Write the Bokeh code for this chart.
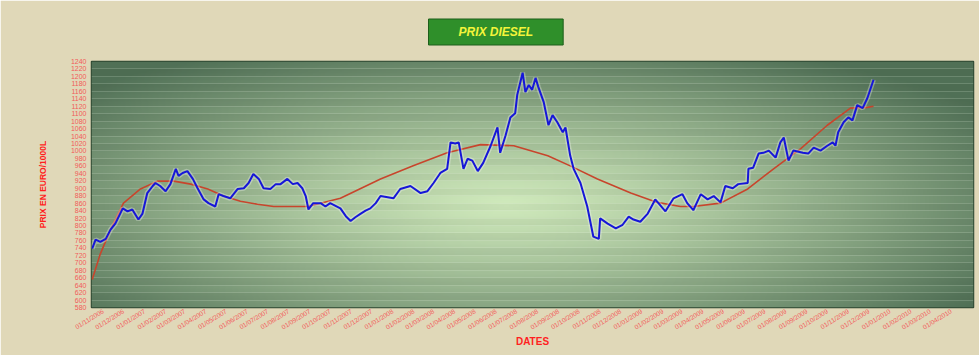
import numpy as np
import pandas as pd
from bokeh.plotting import figure
from bokeh.models import Range1d, FixedTicker, DatetimeTickFormatter
from bokeh.embed import file_html
from bokeh.resources import INLINE

# ---------------- data ----------------
start_date = "2006-10-15"
end_date = "2010-05-04"

# blue series: days since start_date, price in EUR / 1000 L
price_days = [1, 6, 13, 21, 28, 35, 46, 53, 60, 69, 75, 82, 90, 94, 101, 109, 116, 124, 128, 134,
              141, 149, 156, 165, 172, 182, 187, 194, 204, 215, 224, 231, 238, 246, 253, 263, 271, 278, 288, 296,
              303, 310, 315, 319, 326, 337, 344, 351, 366, 374, 381, 388, 396, 403, 410, 418, 425, 444, 454, 469,
              484, 494, 503, 513, 523, 528, 535, 540, 547, 553, 560, 568, 576, 587, 597, 601, 609, 616, 623, 626,
              634, 638, 643, 648, 653, 657, 665, 672, 678, 685, 693, 697, 704, 709, 719, 729, 738, 746, 748, 759,
              771, 781, 790, 797, 807, 818, 829, 844, 856, 869, 876, 885, 896, 906, 915, 925, 932, 943, 951, 965,
              966, 973, 981, 988, 996, 1006, 1013, 1018, 1025, 1032, 1046, 1054, 1062, 1072, 1082, 1090, 1094, 1098, 1106, 1113,
              1119, 1126, 1134, 1141, 1150]
price_values = [738, 762, 756, 764, 789, 805, 846, 838, 843, 816, 832, 887, 906, 914, 906, 892, 911, 952, 933, 941,
                946, 925, 900, 870, 860, 851, 884, 879, 873, 898, 900, 914, 938, 925, 900, 898, 911, 911, 925, 911,
                914, 900, 879, 843, 860, 860, 851, 860, 846, 825, 812, 822, 832, 840, 846, 860, 879, 873, 898, 906,
                887, 892, 914, 941, 952, 1023, 1020, 1023, 952, 979, 974, 946, 968, 1014, 1063, 995, 1042, 1090, 1101, 1150,
                1210, 1158, 1177, 1164, 1196, 1172, 1131, 1069, 1096, 1077, 1050, 1063, 987, 952, 914, 851, 770, 764, 819, 805,
                792, 802, 824, 816, 810, 832, 870, 838, 873, 884, 860, 841, 884, 870, 879, 862, 906, 900, 911, 914,
                952, 955, 993, 995, 1001, 982, 1023, 1036, 974, 1001, 995, 993, 1009, 1001, 1014, 1023, 1014, 1050, 1077, 1090,
                1082, 1123, 1115, 1142, 1191]

# red trend curve
trend_days = [1, 13, 28, 47, 72, 97, 121, 146, 171, 194, 219, 244, 268, 318, 366, 425, 473, 523, 572, 621,
              671, 704, 744, 793, 832, 866, 885, 925, 965, 1003, 1043, 1082, 1116, 1141, 1150]
trend_values = [655, 724, 789, 860, 898, 919, 919, 911, 898, 879, 865, 857, 851, 851, 873, 925, 960, 995, 1017, 1014,
                987, 960, 925, 887, 862, 851, 851, 860, 898, 952, 1006, 1069, 1115, 1117, 1120]

y_ticks = list(range(580, 1241, 20))
x_tick_dates = pd.date_range("2006-11-01", "2010-04-01", freq="MS")

# ---------------- figure ----------------
t0 = pd.Timestamp(start_date)
t1 = pd.Timestamp(end_date)
price_dates = t0 + pd.to_timedelta(price_days, unit="D")
trend_dates = t0 + pd.to_timedelta(trend_days, unit="D")

p = figure(width=979, height=355, x_axis_type="datetime",
           x_range=Range1d(t0, t1), y_range=Range1d(580, 1240),
           output_backend="svg", toolbar_location=None,
           min_border_left=91, min_border_right=6, min_border_top=61, min_border_bottom=48)

p.border_fill_color = "#e0d8b8"
p.background_fill_color = "#4e7055"
p.outline_line_color = "#2c4630"
p.outline_line_width = 1.5

# radial green gradient background for the frame
ny, nx = 140, 420
yy, xx = np.mgrid[0:ny, 0:nx]
fx = xx / (nx - 1)
fy = yy / (ny - 1)
dx = (fx - 0.47) / 0.66
dy = (fy - 0.42) / 0.70
t = np.clip(np.sqrt(dx ** 2 + dy ** 2), 0, 1) ** 1.15
center = np.array([208, 234, 188])
edge = np.array([80, 112, 86])
rgb = center[None, None, :] * (1 - t[..., None]) + edge[None, None, :] * t[..., None]
img = np.empty((ny, nx), dtype=np.uint32)
view = img.view(dtype=np.uint8).reshape((ny, nx, 4))
view[..., 0] = rgb[..., 0].astype(np.uint8)
view[..., 1] = rgb[..., 1].astype(np.uint8)
view[..., 2] = rgb[..., 2].astype(np.uint8)
view[..., 3] = 255
x0_ms = t0.timestamp() * 1000
w_ms = (t1 - t0).total_seconds() * 1000
p.image_rgba(image=[img], x=x0_ms, y=580, dw=w_ms, dh=660, level="image")

# stripes
p.xgrid.grid_line_color = None
p.ygrid.grid_line_color = "#f0fae8"
p.ygrid.grid_line_alpha = 0.18
p.ygrid.band_fill_color = "#000000"
p.ygrid.band_fill_alpha = 0.035

# lines
p.line(trend_dates, trend_values, line_color="#c8452c", line_width=1.6)
p.line(price_dates, price_values, line_color="#ffffff", line_alpha=0.3, line_width=5)
p.line(price_dates, price_values, line_color="#1616d8", line_width=2)

# axes
red = "#ff1f1f"
lab = "#f25a5a"
p.yaxis.ticker = FixedTicker(ticks=y_ticks)
p.yaxis.axis_label = "PRIX EN EURO/1000L"
p.yaxis.axis_label_text_color = red
p.yaxis.axis_label_text_font = "Liberation Sans"
p.yaxis.axis_label_text_font_style = "bold"
p.yaxis.axis_label_text_font_size = "8.5px"
p.yaxis.axis_label_standoff = 20
p.yaxis.major_label_text_font_size = "7px"
p.yaxis.major_label_text_color = lab
p.yaxis.major_label_text_font = "Liberation Sans"

p.xaxis.ticker = FixedTicker(ticks=[d.timestamp() * 1000 for d in x_tick_dates])
fmt = "%d/%m/%Y"
p.xaxis.formatter = DatetimeTickFormatter(milliseconds=fmt, seconds=fmt, minsec=fmt, minutes=fmt,
                                          hourmin=fmt, hours=fmt, days=fmt, months=fmt, years=fmt)
p.xaxis.major_label_orientation = 0.55
p.xaxis.major_label_standoff = 3
p.xaxis.major_label_text_font_size = "6.5px"
p.xaxis.major_label_text_color = lab
p.xaxis.major_label_text_font = "Liberation Sans"
p.xaxis.axis_label = "DATES"
p.xaxis.axis_label_text_color = red
p.xaxis.axis_label_text_font = "Liberation Sans"
p.xaxis.axis_label_text_font_style = "bold"
p.xaxis.axis_label_text_font_size = "10px"
p.xaxis.axis_label_standoff = 0

for ax in (p.xaxis, p.yaxis):
    ax.axis_line_color = None
    ax.major_tick_line_color = None
    ax.minor_tick_line_color = None
    ax.major_tick_out = 0
    ax.major_tick_in = 0

# title
p.title.text = "PRIX DIESEL"
p.title.align = "left"
p.title.offset = 337
p.title.text_color = "#f4f43a"
p.title.text_font = "Liberation Sans"
p.title.text_font_style = "bold italic"
p.title.text_font_size = "12px"
p.title.background_fill_color = "#2f8f2a"
p.title.border_line_color = "#1d5e1a"
p.title.padding = (30, 6)
p.title.standoff = 33

open("out.html", "w").write(file_html(p, INLINE))
